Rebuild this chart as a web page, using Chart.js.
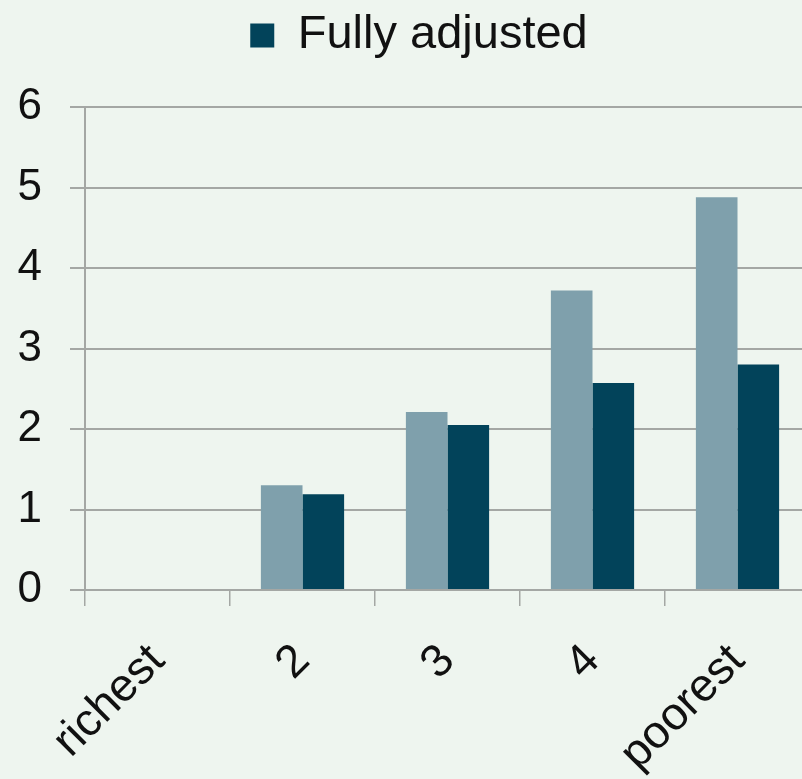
<!DOCTYPE html>
<html>
<head>
<meta charset="utf-8">
<script src="https://cdn.jsdelivr.net/npm/chart.js@4"></script>
<style>
  html, body { margin: 0; padding: 0; background: #eef5ef; overflow: hidden; }
  canvas { display: block; }
</style>
</head>
<body>
<canvas id="gradientChart" width="830" height="779"></canvas>
<script>
// income quintile categories
const categories = ['richest', '2', '3', '4', 'poorest'];
// relative risk, richest = reference group (no bar)
const partlyAdjusted = [null, 1.30, 2.21, 3.72, 4.88];
const fullyAdjusted = [null, 1.19, 2.05, 2.57, 2.80];
const yTicks = [0, 1, 2, 3, 4, 5, 6];

const gridColor = '#a4a7a4';
const textColor = '#111111';

// extra space under the legend
const legendGap = {
    id: 'legendGap',
    beforeInit(chart) {
        const fit = chart.legend.fit;
        chart.legend.fit = function () {
            fit.bind(chart.legend)();
            this.height += 38;
        };
    }
};

// let the y labels use the left padding (keeps the legend where it is)
const yLabelRoom = {
    id: 'yLabelRoom',
    afterLayout(chart) {
        chart.scales.y.left = 0;
    }
};

const ctx = document.getElementById('gradientChart').getContext('2d');

new Chart(ctx, {
    type: 'bar',
    data: {
        labels: categories,
        datasets: [{
            label: 'Age and sex adjusted',
            data: partlyAdjusted,
            backgroundColor: '#7fa0ac',
            borderWidth: 0
        }, {
            label: 'Fully adjusted',
            data: fullyAdjusted,
            backgroundColor: '#02435a',
            borderWidth: 0
        }]
    },
    options: {
        responsive: false,
        animation: false,
        layout: { padding: { left: 28, right: 20, top: 0, bottom: 0 } },
        datasets: {
            bar: { categoryPercentage: 0.574, barPercentage: 1.0 }
        },
        plugins: {
            tooltip: { enabled: false },
            legend: {
                position: 'top',
                labels: {
                    filter: item => item.datasetIndex === 1,
                    color: textColor,
                    font: { family: 'Liberation Sans', size: 47 },
                    boxWidth: 24,
                    boxHeight: 24,
                    padding: 12
                }
            }
        },
        scales: {
            x: {
                grid: {
                    offset: true,
                    drawOnChartArea: false,
                    color: gridColor,
                    lineWidth: 1.5,
                    tickLength: 16
                },
                border: { display: false },
                ticks: {
                    color: textColor,
                    font: { family: 'Liberation Sans', size: 46 },
                    minRotation: 45,
                    maxRotation: 45,
                    autoSkip: false,
                    padding: 28
                },
                afterFit: scale => { scale.height = 189; }
            },
            y: {
                min: yTicks[0],
                max: yTicks[yTicks.length - 1],
                grid: {
                    color: gridColor,
                    lineWidth: 2,
                    tickLength: 15
                },
                border: { color: gridColor, width: 2 },
                ticks: {
                    stepSize: 1,
                    color: textColor,
                    font: { family: 'Liberation Sans', size: 44 },
                    padding: 28
                },
                afterFit: scale => { scale.width = 57; }
            }
        }
    },
    plugins: [legendGap, yLabelRoom]
});
</script>
</body>
</html>
